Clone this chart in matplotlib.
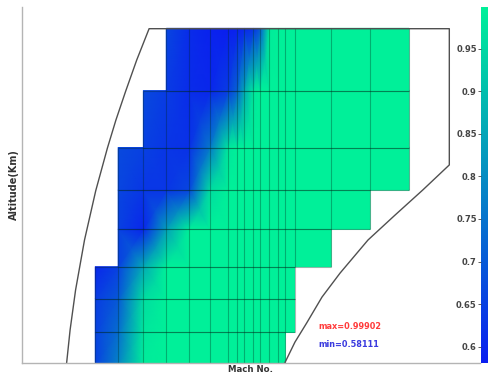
import numpy as np
import matplotlib
matplotlib.use("Agg")
import matplotlib.pyplot as plt
from matplotlib.colors import LinearSegmentedColormap, Normalize
from matplotlib.cm import ScalarMappable

# Mach / altitude grid edges of the flight-envelope mesh
mach_edges = [0.32, 0.42, 0.53, 0.63, 0.73, 0.82, 0.90, 0.94, 0.97, 1.01,
              1.04, 1.08, 1.12, 1.15, 1.19, 1.35, 1.52, 1.69]
alt_edges = [0.0, 1.7, 3.6, 5.4, 7.5, 9.7, 12.1, 15.3, 18.8]

# first / last Mach edge index used by each altitude band (bottom -> top)
row_start = [0, 0, 0, 1, 1, 1, 2, 3]
row_end = [13, 14, 14, 15, 16, 17, 17, 17]

# value at each grid node (rows = altitude edges, bottom -> top)
node_vals = [
    [0.65, 0.78, 0.99, 0.999, 0.999, 0.999, 0.999, 0.999, 0.999, 0.999, 0.999, 0.999, 0.999, 0.999, 0.999, 0.999, 0.999, 0.999],
    [0.65, 0.74, 0.98, 0.999, 0.999, 0.999, 0.999, 0.999, 0.999, 0.999, 0.999, 0.999, 0.999, 0.999, 0.999, 0.999, 0.999, 0.999],
    [0.64, 0.70, 0.96, 0.999, 0.999, 0.999, 0.999, 0.999, 0.999, 0.999, 0.999, 0.999, 0.999, 0.999, 0.999, 0.999, 0.999, 0.999],
    [0.60, 0.65, 0.86, 0.999, 0.999, 0.999, 0.999, 0.999, 0.999, 0.999, 0.999, 0.999, 0.999, 0.999, 0.999, 0.999, 0.999, 0.999],
    [0.62, 0.65, 0.60, 0.84, 0.999, 0.999, 0.999, 0.999, 0.999, 0.999, 0.999, 0.999, 0.999, 0.999, 0.999, 0.999, 0.999, 0.999],
    [0.66, 0.66, 0.63, 0.63, 0.66, 0.96, 0.999, 0.999, 0.999, 0.999, 0.999, 0.999, 0.999, 0.999, 0.999, 0.999, 0.999, 0.999],
    [0.67, 0.67, 0.65, 0.63, 0.62, 0.76, 0.98, 0.999, 0.999, 0.999, 0.999, 0.999, 0.999, 0.999, 0.999, 0.999, 0.999, 0.999],
    [0.67, 0.67, 0.67, 0.64, 0.61, 0.60, 0.64, 0.72, 0.86, 0.98, 0.999, 0.999, 0.999, 0.999, 0.999, 0.999, 0.999, 0.999],
    [0.66, 0.66, 0.66, 0.66, 0.61, 0.59, 0.5811, 0.59, 0.60, 0.62, 0.70, 0.99, 0.999, 0.999, 0.999, 0.999, 0.999, 0.999],
]

# envelope boundary (left limit, ceiling, right limit)
env_mach = [0.195, 0.210, 0.234, 0.273, 0.322, 0.373, 0.410, 0.452, 0.501, 0.555,
            1.866, 1.866, 1.750, 1.629, 1.511, 1.389, 1.310, 1.243, 1.192, 1.148]
env_alt = [0.0, 1.84, 4.09, 6.90, 9.67, 12.07, 13.64, 15.24, 17.02, 18.78,
           18.78, 11.12, 9.71, 8.30, 6.90, 5.04, 3.69, 2.23, 1.16, 0.0]

v_min, v_max = 0.58111, 0.99902
cbar_ticks = [0.6, 0.65, 0.7, 0.75, 0.8, 0.85, 0.9, 0.95]

cmap = LinearSegmentedColormap.from_list("bg", ["#0a1ef0", "#00f099"])
norm = Normalize(v_min, v_max)

fig = plt.figure(figsize=(4.88, 3.78), dpi=100)
ax = fig.add_axes([22 / 488, 15.3 / 378, 458 / 488, 355.7 / 378])

mach = np.array(mach_edges)
alt = np.array(alt_edges)
vals = np.array(node_vals)
grid_c = (0, 0.15, 0.1, 0.32)

for r in range(len(row_start)):
    s, e = row_start[r], row_end[r]
    xs = mach[s:e + 1]
    X = np.vstack([xs, xs])
    Y = np.vstack([np.full_like(xs, alt[r]), np.full_like(xs, alt[r + 1])])
    C = vals[r:r + 2, s:e + 1]
    ax.pcolormesh(X, Y, C, shading="gouraud", cmap=cmap, norm=norm)
    ax.hlines([alt[r], alt[r + 1]], xs[0], xs[-1], color=grid_c, lw=0.8)
    ax.vlines(xs, alt[r], alt[r + 1], color=grid_c, lw=0.8)

ax.plot(env_mach, env_alt, color="#505050", lw=1.0)

ax.set_xlim(0, 2.0)
ax.set_ylim(0, 20.0)
ax.set_xticks([]); ax.set_yticks([])
for side in ("top", "right"):
    ax.spines[side].set_visible(False)
for side in ("left", "bottom"):
    ax.spines[side].set_color("#b4b4b4")
    ax.spines[side].set_linewidth(1.0)

ax.set_xlabel("Mach No.", fontsize=6.2, fontweight="bold", color="#333333", labelpad=2)
ax.set_ylabel("Altitude(Km)", fontsize=7, fontweight="bold", color="#333333", labelpad=2)

ax.text(0.648, 0.101, f"max={v_max:.5f}", transform=ax.transAxes,
        color="#ff3b3b", fontsize=5.9, fontweight="bold", va="center")
ax.text(0.648, 0.050, f"min={v_min:.5f}", transform=ax.transAxes,
        color="#3a3adf", fontsize=5.9, fontweight="bold", va="center")

cax = fig.add_axes([481 / 488, 15.3 / 378, 0.03, 355.7 / 378])
cb = fig.colorbar(ScalarMappable(norm=norm, cmap=cmap), cax=cax)
cb.outline.set_visible(False)
cax.yaxis.set_ticks_position("left")
cb.set_ticks(cbar_ticks)
cb.set_ticklabels([f"{t:g}" for t in cbar_ticks])
cax.tick_params(length=2, pad=1, labelsize=6, colors="#444444", width=0.6)
for lab in cax.get_yticklabels():
    lab.set_fontweight("bold")

fig.savefig("out.png", dpi=100, facecolor="white")
